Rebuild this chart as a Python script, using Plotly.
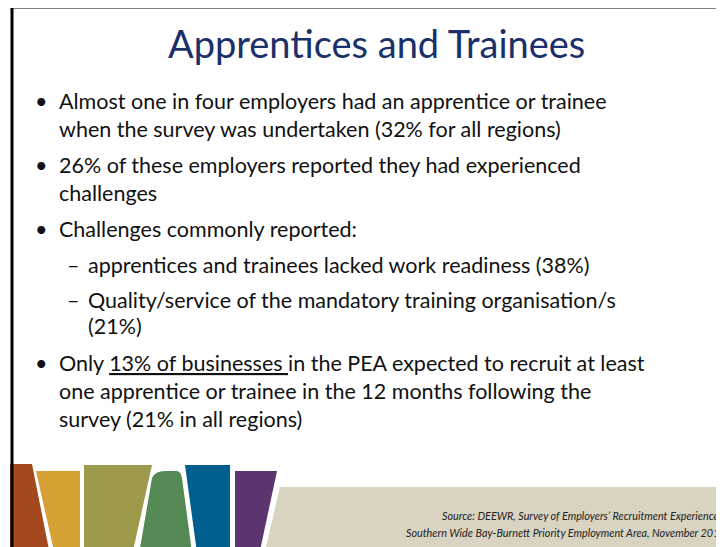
import plotly.graph_objects as go

W, H = 724, 547
OFF = 8  # the page body has an 8px margin; shift the axes so data coords = window pixels

title_text = "Apprentices and Trainees"

bullet_lines = [
    # (marker, text, y_center, indent_level)
    ("•", "Almost one in four employers had an apprentice or trainee", 101, 0),
    ("", "when the survey was undertaken (32% for all regions)", 129, 0),
    ("•", "26% of these employers reported they had experienced", 165, 0),
    ("", "challenges", 193, 0),
    ("•", "Challenges commonly reported:", 229, 0),
    ("–", "apprentices and trainees lacked work readiness (38%)", 265, 1),
    ("–", "Quality/service of the mandatory training organisation/s", 300, 1),
    ("", "(21%)", 326, 1),
    ("•", "Only <u>13% of businesses </u>in the PEA expected to recruit at least", 363, 0),
    ("", "one apprentice or trainee in the 12 months following the", 391, 0),
    ("", "survey (21% in all regions)", 419, 0),
]

source_lines = [
    ("Source: DEEWR, Survey of Employers’ Recruitment Experiences:", 728, 515),
    ("Southern Wide Bay-Burnett Priority Employment Area, November 2012", 728, 532),
]

band_colors = ["#A3481F", "#D5A034", "#9D9B4B", "#568A55", "#005F8E", "#5B3470"]
band_paths = [
    "M 10 464 L 32 464 L 51 547 L 10 547 Z",
    "M 36 471 L 80 471 L 80 547 L 56 547 Z",
    "M 84 465 L 152 465 L 131 547 L 84 547 Z",
    "M 138 547 L 152 478 Q 155 471 165 471 L 177 471 Q 181 472 182 478 L 193 547 Z",
    "M 185 465 L 230 465 L 230 547 L 198 547 Z",
    "M 235 471 L 277 471 L 258 547 L 235 547 Z",
]
beige_color = "#D9D3C1"
beige_path = "M 280 487 L 740 487 L 740 560 L 263 560 Z"

fig = go.Figure()

shapes = []
shapes.append(dict(type="path", path=beige_path, fillcolor=beige_color,
                   line=dict(width=0), xref="x", yref="y", layer="below"))
for c, p in zip(band_colors, band_paths):
    p = p.replace(" 547", " 560")
    shapes.append(dict(type="path", path=p, fillcolor=c, line=dict(width=0),
                       xref="x", yref="y", layer="below"))
# slide border (left and top)
shapes.append(dict(type="line", x0=12, x1=12, y0=6, y1=560,
                   line=dict(color="black", width=3), xref="x", yref="y"))
shapes.append(dict(type="line", x0=10.5, x1=740, y0=7, y1=7,
                   line=dict(color="black", width=3), xref="x", yref="y"))

annotations = []
annotations.append(dict(x=376, y=43, xref="x", yref="y", text=title_text,
                        showarrow=False, xanchor="center", yanchor="middle",
                        font=dict(family="Lato", size=38, color="#1B2F6A")))

font_body = dict(family="Lato", size=21.5, color="#111111")
for marker, txt, yc, lvl in bullet_lines:
    if lvl == 0:
        mx, tx = 41, 57
    else:
        mx, tx = 73, 86
    if marker:
        annotations.append(dict(x=mx, y=yc, xref="x", yref="y", text=marker,
                                showarrow=False, xanchor="center", yanchor="middle",
                                font=font_body))
    annotations.append(dict(x=tx, y=yc, xref="x", yref="y", text=txt,
                            showarrow=False, xanchor="left", yanchor="middle",
                            font=font_body))

for txt, sx, sy in source_lines:
    annotations.append(dict(x=sx, y=sy, xref="x", yref="y", text="<i>" + txt + "</i>",
                            showarrow=False, xanchor="right", yanchor="middle",
                            font=dict(family="Lato", size=10.8, color="#222222")))

fig.update_layout(
    width=W, height=H,
    margin=dict(l=0, r=0, t=0, b=0),
    paper_bgcolor="white", plot_bgcolor="white",
    xaxis=dict(range=[OFF, W + OFF], visible=False, fixedrange=True),
    yaxis=dict(range=[H + OFF, OFF], visible=False, fixedrange=True),
    shapes=shapes,
    annotations=annotations,
    showlegend=False,
)

fig.write_html("out.html")
